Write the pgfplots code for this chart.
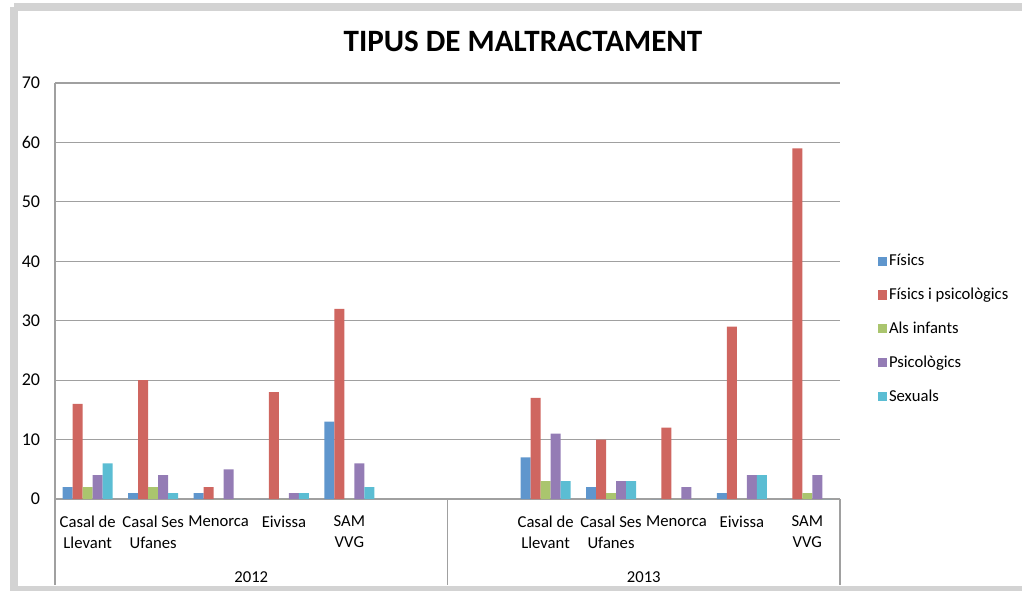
\documentclass[border=0pt]{standalone}
\usepackage{fontspec}
\setmainfont{Carlito}
\usepackage{pgfplots}
\pgfplotsset{compat=1.18}
\usepackage{pgfplotstable}

\definecolor{cFis}{RGB}{95,150,205}
\definecolor{cFip}{RGB}{207,102,96}
\definecolor{cInf}{RGB}{170,197,110}
\definecolor{cPsi}{RGB}{148,124,181}
\definecolor{cSex}{RGB}{91,189,211}
\definecolor{gridc}{RGB}{160,160,160}
\definecolor{framec}{RGB}{211,211,211}

% x: 0-4 = 2012, 7-11 = 2013
\pgfplotstableread{
x fis fip inf psi sex
0  2 16 2  4 6
1  1 20 2  4 1
2  1  2 0  5 0
3  0 18 0  1 1
4 13 32 0  6 2
7  7 17 3 11 3
8  2 10 1  3 3
9  0 12 0  2 0
10 1 29 0  4 4
11 0 59 1  4 0
}\datatable

\begin{document}
\begin{tikzpicture}[x=0.75pt,y=0.75pt]
\useasboundingbox (0,0) rectangle (1022,590);
\draw[framec, line width=6pt] (14,582.5) -- (1030,582.5);
\draw[framec, line width=6pt] (14,582.5) -- (14,-10);
\draw[framec, line width=6pt] (14,0) -- (1030,0);

\begin{axis}[
    at={(41.25pt,68.25pt)}, anchor=south west,
    scale only axis, width=588.75pt, height=312pt,
    clip=false,
    ymin=0, ymax=70, ytick={0,10,...,70},
    xmin=-0.5, xmax=11.5,
    xtick={0,1,2,3,4,7,8,9,10,11},
    xticklabels={{Casal de\\Llevant},{Casal Ses\\Ufanes},Menorca,Eivissa,{SAM\\VVG},
                 {Casal de\\Llevant},{Casal Ses\\Ufanes},Menorca,Eivissa,{SAM\\VVG}},
    x tick label style={font=\fontsize{12.5}{15.5}\selectfont, align=center, anchor=north, inner sep=0pt, yshift=-12.5pt},
    y tick label style={font=\fontsize{13.5}{16}\selectfont, anchor=east, inner sep=0pt, xshift=-11pt},
    /pgf/number format/assume math mode=true,
    major tick length=0pt,
    axis x line*=bottom, axis y line*=left,
    axis line style={gridc, line width=0.9pt, -},
    ymajorgrids, grid style={gridc, line width=0.9pt},
    ybar=0pt, bar width=7.5pt,
    legend style={at={(1.043,0.60)}, anchor=north west, draw=none, fill=none,
        font=\fontsize{12.5}{15}\selectfont, row sep=12.3pt,
        nodes={inner sep=1.5pt}},
    legend cell align=left,
    legend image code/.code={\fill[#1] (-2.5pt,-3.4pt) rectangle (4.25pt,3.4pt);},
]
\addplot[fill=cFis, draw=none] table[x=x, y=fis] {\datatable};
\addplot[fill=cFip, draw=none] table[x=x, y=fip] {\datatable};
\addplot[fill=cInf, draw=none] table[x=x, y=inf] {\datatable};
\addplot[fill=cPsi, draw=none] table[x=x, y=psi] {\datatable};
\addplot[fill=cSex, draw=none] table[x=x, y=sex] {\datatable};
\legend{Físics, Físics i psicològics, Als infants, Psicològics, Sexuals}

\draw[gridc, line width=0.9pt] (axis cs:-0.5,0) -- ++(0pt,-64.5pt);
\draw[gridc, line width=0.9pt] (axis cs:5.5,0) -- ++(0pt,-64.5pt);
\draw[gridc, line width=0.9pt] (axis cs:11.5,0) -- ++(0pt,-64.5pt);
\node[font=\fontsize{12.5}{15}\selectfont] at (axis cs:2.5,0) [yshift=-58.5pt] {2012};
\node[font=\fontsize{12.5}{15}\selectfont] at (axis cs:8.5,0) [yshift=-58.5pt] {2013};
\end{axis}

\node[font=\bfseries\fontsize{23.3}{28}\selectfont] at (523,549) {TIPUS DE MALTRACTAMENT};
\end{tikzpicture}
\end{document}
